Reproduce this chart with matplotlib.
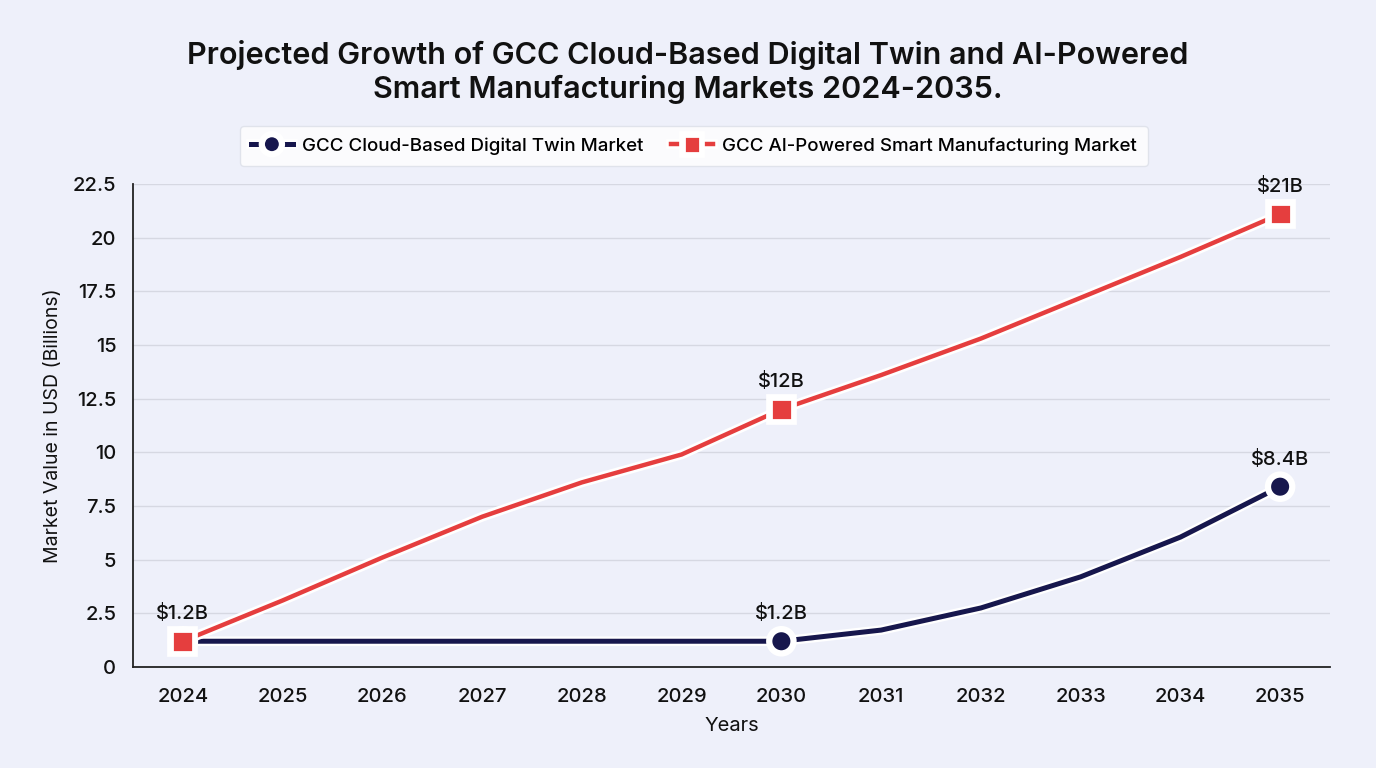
import matplotlib.pyplot as plt
import matplotlib.patheffects as pe

years = [2024, 2025, 2026, 2027, 2028, 2029, 2030, 2031, 2032, 2033, 2034, 2035]
digital_twin = [1.2, 1.2, 1.2, 1.2, 1.2, 1.2, 1.2, 1.72, 2.75, 4.2, 6.05, 8.4]
smart_mfg = [1.2, 3.1, 5.1, 7.0, 8.6, 9.9, 12.0, 13.6, 15.3, 17.2, 19.1, 21.1]
marker_idx = [0, 6, 11]
twin_labels = ["$1.2B", "$1.2B", "$8.4B"]
mfg_labels = ["$1.2B", "$12B", "$21B"]
yticks = [0, 2.5, 5, 7.5, 10, 12.5, 15, 17.5, 20, 22.5]
ytick_labels = ["0", "2.5", "5", "7.5", "10", "12.5", "15", "17.5", "20", "22.5"]

plt.rcParams["font.family"] = ["Inter", "DejaVu Sans"]
plt.rcParams["font.weight"] = "medium"
plt.rcParams["text.parse_math"] = False

bg = "#eef0fa"
navy = "#17174d"
red = "#e53e3e"
ink = "#111111"

fig = plt.figure(figsize=(13.76, 7.68), dpi=100, facecolor=bg)
ax = fig.add_axes([133 / 1376, (768 - 667) / 768, 1197 / 1376, 483 / 768])
ax.set_facecolor(bg)

outline = [pe.Stroke(linewidth=7, foreground="white"), pe.Normal()]

ax.plot(years, digital_twin, color=navy, lw=3.6, marker="o", markersize=15,
        markevery=marker_idx, markerfacecolor=navy, markeredgecolor="white",
        markeredgewidth=2, solid_joinstyle="round", path_effects=outline,
        label="GCC Cloud-Based Digital Twin Market", zorder=3)
ax.plot(years, smart_mfg, color=red, lw=3.2, marker="s", markersize=15,
        markevery=marker_idx, markerfacecolor=red, markeredgecolor="white",
        markeredgewidth=2, solid_joinstyle="round", path_effects=outline,
        label="GCC AI-Powered Smart Manufacturing Market", zorder=4)

for i, lab in zip(marker_idx, mfg_labels):
    ax.annotate(lab, (years[i], smart_mfg[i]), xytext=(0, 13), textcoords="offset points",
                ha="center", va="bottom", fontsize=14.5, color=ink, zorder=5)
for i, lab in zip(marker_idx[1:], twin_labels[1:]):
    ax.annotate(lab, (years[i], digital_twin[i]), xytext=(0, 13), textcoords="offset points",
                ha="center", va="bottom", fontsize=14.5, color=ink, zorder=5)

ax.set_xlim(2023.5, 2035.5)
ax.set_ylim(0, 22.5)
ax.set_xticks(years)
ax.set_xticklabels([str(y) for y in years], fontsize=14.5)
ax.set_yticks(yticks)
ax.set_yticklabels(ytick_labels, fontsize=14.5)
ax.tick_params(length=0, pad=12, colors=ink)
ax.tick_params(axis="x", pad=15)
ax.grid(axis="y", color="#d6d8e2", lw=1)
ax.set_axisbelow(True)
for s in ["top", "right"]:
    ax.spines[s].set_visible(False)
for s in ["left", "bottom"]:
    ax.spines[s].set_color("#222222")
    ax.spines[s].set_linewidth(1.3)

ax.set_xlabel("Years", fontsize=14.5, labelpad=8, color=ink)
ax.set_ylabel("Market Value in USD (Billions)", fontsize=14, labelpad=8, color=ink)

fig.suptitle("Projected Growth of GCC Cloud-Based Digital Twin and AI-Powered\n"
             "Smart Manufacturing Markets 2024-2035.",
             fontsize=22, fontweight="semibold", y=0.948, linespacing=1.2, color=ink)

handles, labels = ax.get_legend_handles_labels()
leg = fig.legend(handles, labels, loc="center", bbox_to_anchor=(694 / 1376, 1 - 146 / 768),
                 ncol=2, fontsize=13.5, frameon=True, fancybox=True, handlelength=2.2,
                 columnspacing=1.5, borderpad=0.6, handletextpad=0.5)
leg.get_frame().set_facecolor("white")
leg.get_frame().set_edgecolor("#dcdfe8")
leg.get_frame().set_linewidth(1)
for h in leg.legend_handles:
    h.set_markersize(12)

fig.savefig("out.png", dpi=100, facecolor=bg)
